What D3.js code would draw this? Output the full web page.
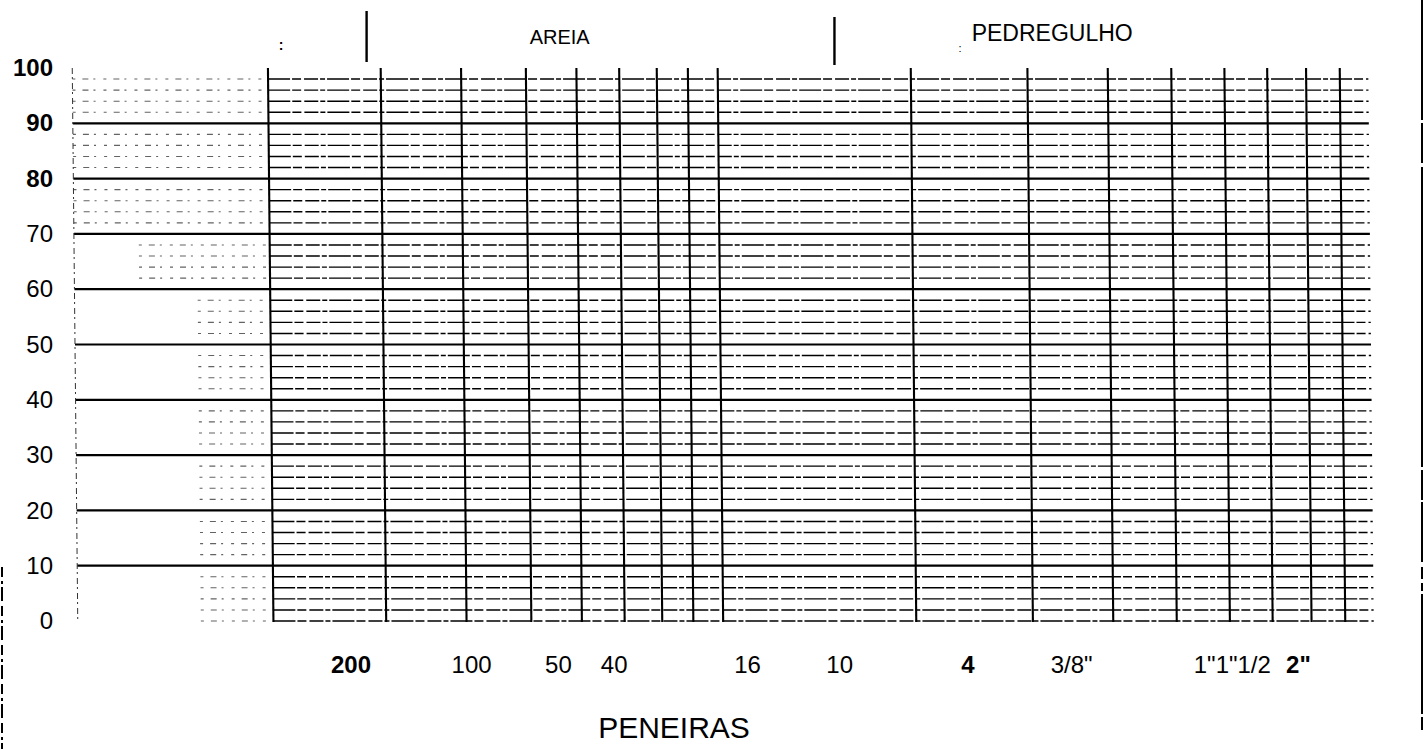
<!DOCTYPE html>
<html>
<head>
<meta charset="utf-8">
<script src="https://cdn.jsdelivr.net/npm/d3@7"></script>
<style>
  html, body { margin: 0; padding: 0; background: #fff; }
  svg { display: block; }
  text { font-family: "Liberation Sans", Arial, sans-serif; fill: #000; }
</style>
</head>
<body>
<svg id="chart" width="1425" height="749"></svg>
<script>
// ---- data ----
// percent axis
const yTicks = [0, 10, 20, 30, 40, 50, 60, 70, 80, 90, 100];
const yBoldTicks = [80, 90, 100];
const gridLevels = d3.range(0, 100, 2);          // horizontal rulings every 2 %
const majorLevels = [10, 20, 30, 40, 50, 60, 70, 80, 90];

// horizontal position along the sieve axis, in % of the grid width
const verticalRulings = [15.1, 23.8, 30.0, 35.0, 38.9, 42.2, 45.1, 47.5, 49.8,
                         64.7, 73.7, 79.9, 84.8, 88.9, 92.2, 95.2, 97.8];
const sieveLabels = ["200", "100", "50", "40", "16", "10", "4", "3/8\"", "1\"1\"1/2", "2\""];
const sievePositions = [21.3, 30.6, 37.3, 41.6, 51.9, 59.0, 68.9, 76.9, 89.3, 94.4];
const sieveBold = ["200", "4", "2\""];

const zoneLabels = ["AREIA", "PEDREGULHO"];
const zoneLabelPositions = [37.4, 75.4];
const zoneBoundaries = [22.5, 58.6];

const axisTitle = "PENEIRAS";

// ---- drawing ----
const svg = d3.select("#chart");
const x = d3.scaleLinear().domain([0, 100]).range([75, 1371]);
const y = d3.scaleLinear().domain([0, 100]).range([621, 68]);

// the scanned grid is very slightly slanted
const yc = (y(0) + y(100)) / 2;
const grid = svg.append("g")
  .attr("transform", `translate(0,${yc}) skewX(0.57) translate(0,${-yc})`);

// horizontal rulings: minor (dashed, scan-like) and major (solid)
const minor = gridLevels.filter(v => !majorLevels.includes(v));
// faded left part of minor rulings
grid.selectAll("line.minorLeft").data(minor).enter().append("line")
  .attr("x1", d => d >= 70 ? x(0) : (d >= 60 ? x(5) : x(9.5)))
  .attr("x2", x(15.1))
  .attr("y1", d => y(d)).attr("y2", d => y(d))
  .attr("stroke", "#222").attr("stroke-width", 1.1)
  .attr("stroke-dasharray", "3 7 6 5 2 8")
  .attr("opacity", 0.7);
grid.selectAll("line.minor").data(minor).enter().append("line")
  .attr("x1", x(15.1)).attr("x2", x(100))
  .attr("y1", d => y(d)).attr("y2", d => y(d))
  .attr("stroke", "#000").attr("stroke-width", 1.4)
  .attr("stroke-dasharray", "22 2 9 3 14 2 5 2");
grid.selectAll("line.major").data(majorLevels).enter().append("line")
  .attr("x1", x(0)).attr("x2", x(100))
  .attr("y1", d => y(d)).attr("y2", d => y(d))
  .attr("stroke", "#000").attr("stroke-width", 2.2);

// left edge (dashed) of the grid
grid.append("line")
  .attr("x1", x(0)).attr("x2", x(0))
  .attr("y1", y(100)).attr("y2", y(0))
  .attr("stroke", "#333").attr("stroke-width", 1)
  .attr("stroke-dasharray", "6 3 2 4");

// vertical rulings
grid.selectAll("line.vert").data(verticalRulings).enter().append("line")
  .attr("x1", d => x(d)).attr("x2", d => x(d))
  .attr("y1", y(100)).attr("y2", y(0) + 1)
  .attr("stroke", "#000").attr("stroke-width", 2.1);

// zone boundary marks above the grid
const header = svg.append("g");
header.selectAll("line.zone").data(zoneBoundaries).enter().append("line")
  .attr("x1", d => x(d)).attr("x2", d => x(d))
  .attr("y1", (d, i) => i === 0 ? 11 : 17)
  .attr("y2", (d, i) => i === 0 ? 62 : 65)
  .attr("stroke", "#000").attr("stroke-width", 2.4);

header.selectAll("text.zone").data(zoneLabels).enter().append("text")
  .attr("x", (d, i) => x(zoneLabelPositions[i]))
  .attr("y", (d, i) => i === 0 ? 43.5 : 41)
  .attr("text-anchor", "middle")
  .attr("font-size", (d, i) => i === 0 ? 20 : 23)
  .text(d => d);

// y axis labels
const yAxis = d3.axisLeft(y).tickValues(yTicks).tickSize(0).tickPadding(22)
  .tickFormat(d3.format("d"));
const ya = svg.append("g").attr("transform", `translate(${x(0)},0)`).call(yAxis);
ya.select(".domain").remove();
ya.selectAll("text")
  .attr("font-size", 24)
  .attr("font-family", "Liberation Sans, Arial, sans-serif")
  .attr("font-weight", d => yBoldTicks.includes(d) ? "bold" : "normal")
  .attr("fill", "#000");

// sieve labels
svg.selectAll("text.sieve").data(sieveLabels).enter().append("text")
  .attr("x", (d, i) => x(sievePositions[i]))
  .attr("y", 673)
  .attr("text-anchor", "middle")
  .attr("font-size", 24)
  .attr("font-weight", d => sieveBold.includes(d) ? "bold" : "normal")
  .text(d => d);

svg.append("text")
  .attr("x", 674).attr("y", 738)
  .attr("text-anchor", "middle")
  .attr("font-size", 30)
  .text(axisTitle);

// scan marks: page borders and stray dots
svg.append("line").attr("x1", 1422).attr("x2", 1422).attr("y1", 0).attr("y2", 730)
  .attr("stroke", "#000").attr("stroke-width", 2).attr("stroke-dasharray", "120 3 40 4 300 3 30 2 60 5 12 4 8 3");
svg.append("line").attr("x1", 2).attr("x2", 2).attr("y1", 567).attr("y2", 749)
  .attr("stroke", "#000").attr("stroke-width", 2).attr("stroke-dasharray", "10 4 3 3 14 5");
svg.append("text").attr("x", 281).attr("y", 50).attr("font-size", 14).attr("font-weight", "bold").attr("text-anchor", "middle").text(":");
svg.append("text").attr("x", 960).attr("y", 52).attr("font-size", 11).attr("text-anchor", "middle").text(":");
</script>
</body>
</html>
